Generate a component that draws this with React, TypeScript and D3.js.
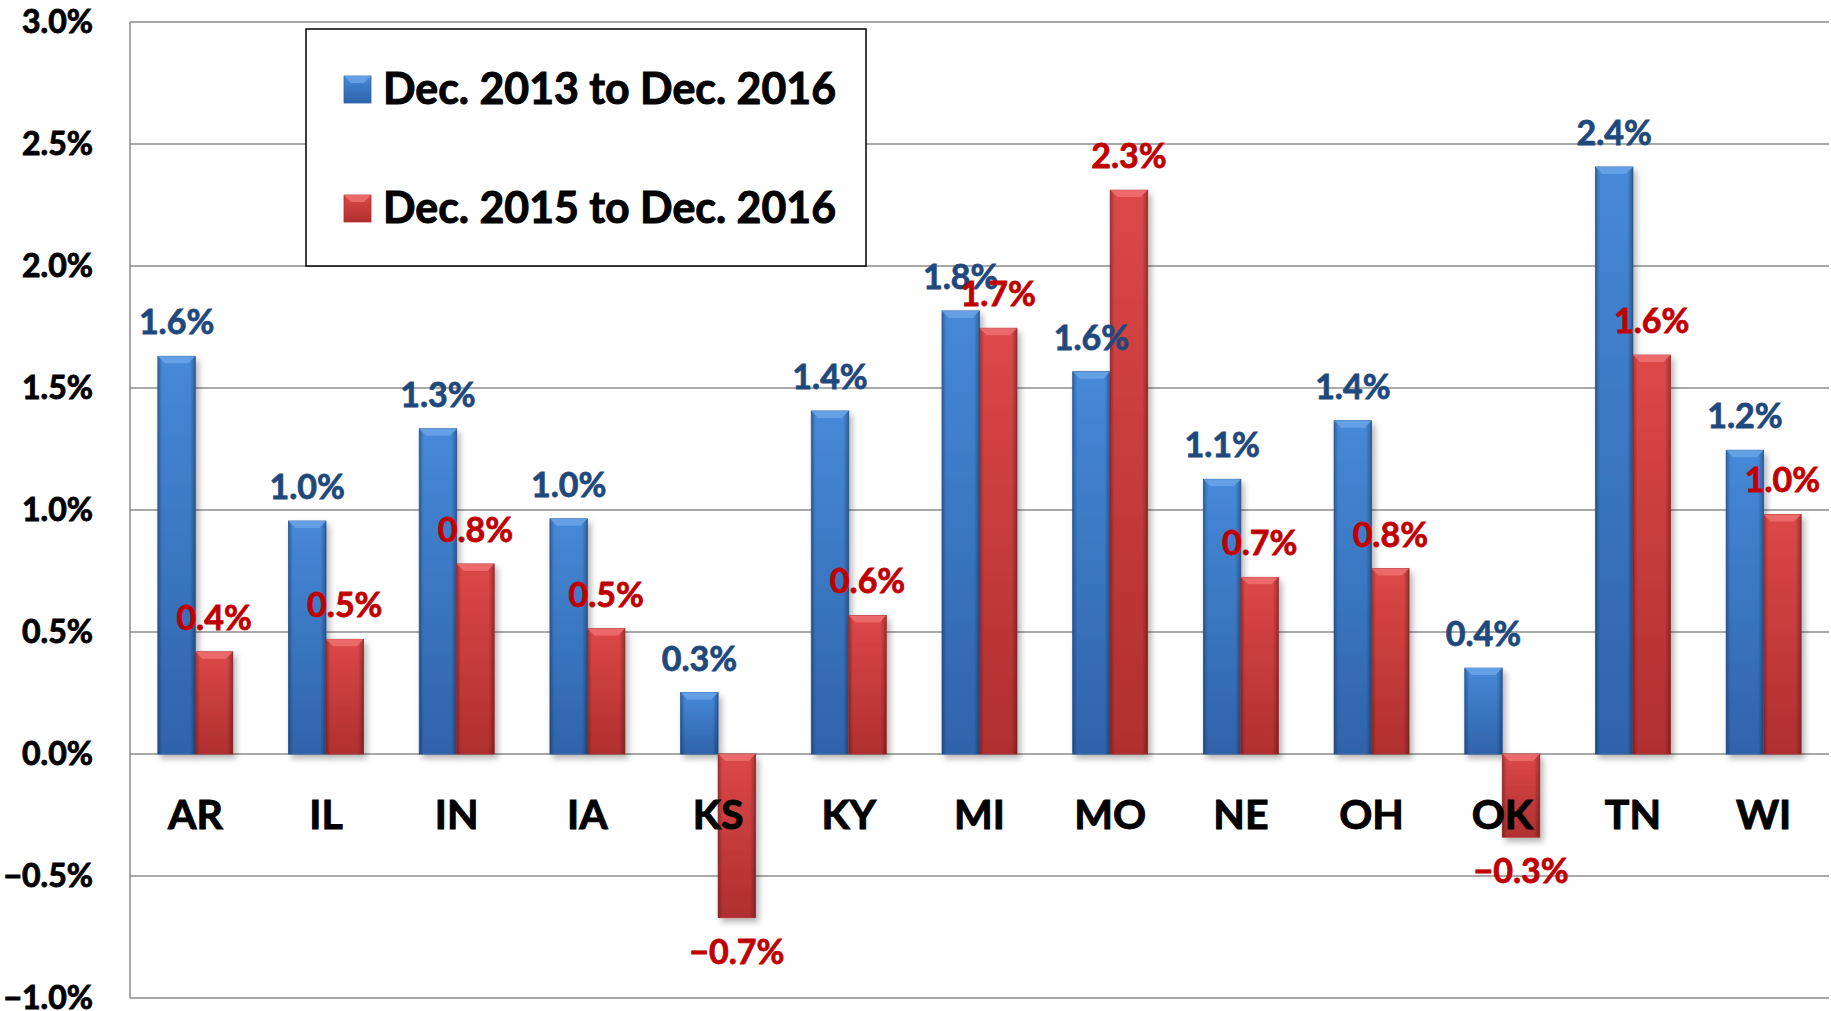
import React from "react";
import * as d3 from "d3";

const states = ["AR", "IL", "IN", "IA", "KS", "KY", "MI", "MO", "NE", "OH", "OK", "TN", "WI"];
// percent change
const dec13to16 = [1.63, 0.955, 1.333, 0.964, 0.252, 1.406, 1.816, 1.567, 1.126, 1.366, 0.352, 2.406, 1.245];
const dec15to16 = [0.419, 0.47, 0.779, 0.514, -0.671, 0.568, 1.745, 2.311, 0.724, 0.76, -0.341, 1.635, 0.982];
const seriesNames = ["Dec. 2013 to Dec. 2016", "Dec. 2015 to Dec. 2016"];
const yTicks = [-1, -0.5, 0, 0.5, 1, 1.5, 2, 2.5, 3];

const W = 1831;
const H = 1011;
const left = 130;
const right = 1829;
const top = 22;
const bottom = 998;
const font = "Lato, 'Open Sans', sans-serif";

const seriesStyle = [
  { id: "blue", light: "#4689d8", dark: "#2f63aa", bevel: "#6aa4e8", label: "#1f497d" },
  { id: "red", light: "#dc4848", dark: "#b02f2f", bevel: "#ee7070", label: "#c00000" },
];

const fmt = d3.format(".1f");

export default function App() {
  const x = d3.scaleBand<string>().domain(states).range([left, right]).paddingInner(0.426).paddingOuter(0.213);
  const xs = d3.scaleBand<string>().domain(["0", "1"]).range([0, x.bandwidth()]);
  const y = d3.scaleLinear().domain([-1, 3]).range([bottom, top]);
  const series = [dec13to16, dec15to16];
  const bev = 7;

  return (
    <div style={{ position: "absolute", left: 0, top: 0 }}>
      <svg width={W} height={H} style={{ display: "block", background: "#fff" }}>
        <defs>
          {seriesStyle.map((s) => (
            <linearGradient key={s.id} id={`fill-${s.id}`} x1="0" y1="0" x2="0" y2="1">
              <stop offset="0" stopColor={s.light} />
              <stop offset="1" stopColor={s.dark} />
            </linearGradient>
          ))}
          <linearGradient id="edges" x1="0" y1="0" x2="1" y2="0">
            <stop offset="0" stopColor="#000" stopOpacity="0.28" />
            <stop offset="0.12" stopColor="#000" stopOpacity="0" />
            <stop offset="0.85" stopColor="#000" stopOpacity="0" />
            <stop offset="1" stopColor="#000" stopOpacity="0.3" />
          </linearGradient>
          <filter id="shadow" x="-30%" y="-10%" width="160%" height="130%">
            <feDropShadow dx="3" dy="4" stdDeviation="3" floodColor="#000" floodOpacity="0.3" />
          </filter>
        </defs>

        {/* grid */}
        {yTicks.map((t) => (
          <line key={t} x1={left} x2={right} y1={y(t)} y2={y(t)} stroke="#8c8c8c" strokeWidth={1.5} />
        ))}
        <line x1={left} x2={left} y1={top} y2={bottom} stroke="#8c8c8c" strokeWidth={1.5} />

        {yTicks.map((t) => (
          <text key={t} x={93} y={y(t) + 11} textAnchor="end" fontFamily={font} fontWeight={700} fontSize={32} fill="#000" stroke="#000" strokeWidth={0.9}>
            {fmt(t) + "%"}
          </text>
        ))}

        {/* bars */}
        {states.map((st, i) =>
          series.map((vals, k) => {
            const v = vals[i];
            const bx = (x(st) as number) + (xs(String(k)) as number);
            const bw = xs.bandwidth();
            const y0 = Math.min(y(v), y(0));
            const bh = Math.abs(y(v) - y(0));
            const s = seriesStyle[k];
            return (
              <g key={st + k}>
                <g filter="url(#shadow)">
                  <rect x={bx} y={y0} width={bw} height={bh} fill={`url(#fill-${s.id})`} stroke={s.dark} strokeWidth={0.8} />
                </g>
                <rect x={bx} y={y0} width={bw} height={bh} fill="url(#edges)" />
                <polygon
                  points={`${bx},${y0} ${bx + bw},${y0} ${bx + bw - bev},${y0 + bev} ${bx + bev},${y0 + bev}`}
                  fill={s.bevel}
                  opacity={0.85}
                />
              </g>
            );
          })
        )}

        {/* value labels */}
        {states.map((st, i) =>
          series.map((vals, k) => {
            const v = vals[i];
            const cx = (x(st) as number) + (xs(String(k)) as number) + xs.bandwidth() / 2;
            const ty = v >= 0 ? y(v) - 22 : y(v) + 46;
            const c = seriesStyle[k].label;
            return (
              <text key={"l" + st + k} x={cx} y={ty} textAnchor="middle" fontFamily={font} fontWeight={700} fontSize={34} fill={c} stroke={c} strokeWidth={0.8}>
                {fmt(v) + "%"}
              </text>
            );
          })
        )}

        {/* category labels */}
        {states.map((st) => (
          <text key={"c" + st} x={(x(st) as number) + x.bandwidth() / 2} y={829} textAnchor="middle" fontFamily={font} fontWeight={700} fontSize={41} fill="#000" stroke="#000" strokeWidth={1}>
            {st}
          </text>
        ))}

        {/* legend */}
        <rect x={306} y={29} width={560} height={237} fill="#fff" stroke="#000" strokeWidth={1.5} />
        {seriesNames.map((name, k) => {
          const rowY = [104, 223][k];
          const s = seriesStyle[k];
          const sx = 344;
          const sy = rowY - 28;
          return (
            <g key={name}>
              <rect x={sx} y={sy} width={27} height={27} fill={`url(#fill-${s.id})`} stroke={s.dark} strokeWidth={0.8} />
              <polygon points={`${sx},${sy} ${sx + 27},${sy} ${sx + 20},${sy + 7} ${sx + 7},${sy + 7}`} fill={s.bevel} opacity={0.85} />
              <text x={383} y={rowY} fontFamily={font} fontWeight={700} fontSize={44} fill="#000" stroke="#000" strokeWidth={1} textLength={453} lengthAdjust="spacingAndGlyphs">
                {name}
              </text>
            </g>
          );
        })}
      </svg>
    </div>
  );
}
